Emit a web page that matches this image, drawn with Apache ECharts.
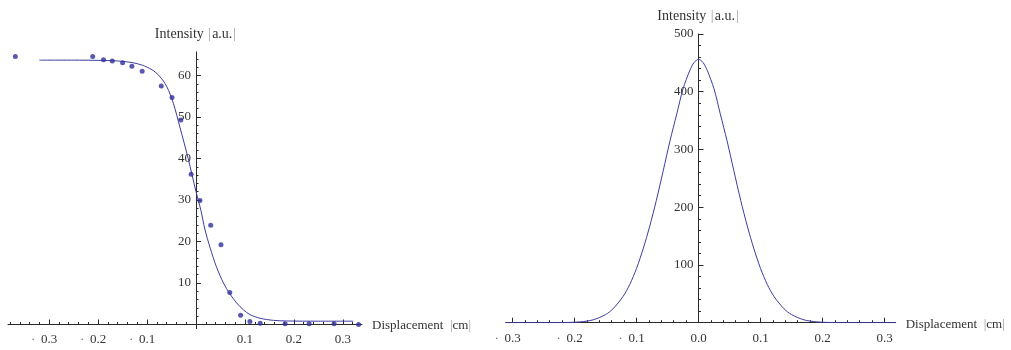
<!DOCTYPE html>
<html>
<head>
<meta charset="utf-8">
<script src="https://cdn.jsdelivr.net/npm/echarts@6/dist/echarts.min.js"></script>
<style>
  html, body { margin: 0; padding: 0; background: #ffffff; }
  #chart { width: 1011px; height: 350px; }
</style>
</head>
<body>
<div id="chart"></div>
<script>
// Knife-edge scan: measured intensity vs. displacement
const edgeX = [-0.369, -0.211, -0.189, -0.171, -0.150, -0.131, -0.110, -0.071, -0.049, -0.031,
               -0.010, 0.008, 0.030, 0.051, 0.069, 0.091, 0.110, 0.131, 0.182, 0.231, 0.282, 0.332];
const edgeY = [64.6, 64.6, 63.8, 63.5, 63.1, 62.2, 61.0, 57.5, 54.7, 49.3,
               36.2, 29.9, 23.9, 19.2, 7.7, 2.2, 0.7, 0.3, 0.2, 0.2, 0.2, 0.0];

// Fitted edge curve
const edgeFitX = [-0.32, -0.25, -0.20, -0.16, -0.13, -0.11, -0.09, -0.075, -0.06, -0.046,
                  -0.033, -0.016, 0.000, 0.010, 0.018, 0.029, 0.042, 0.056, 0.069, 0.083,
                  0.097, 0.110, 0.131, 0.158, 0.185, 0.25, 0.321];
const edgeFitY = [63.7, 63.7, 63.65, 63.5, 63.1, 62.5, 61.4, 59.9, 57.4, 53.2,
                  47.6, 40.0, 32.0, 27.5, 23.0, 18.4, 13.8, 10.0, 7.4, 5.2,
                  3.5, 2.4, 1.5, 1.0, 0.85, 0.8, 0.8];

// Beam profile (derivative of the edge fit)
const beamX = [-0.311, -0.25, -0.213, -0.190, -0.170, -0.150, -0.138, -0.122, -0.111, -0.100,
               -0.089, -0.079, -0.068, -0.057, -0.046, -0.035, -0.025, -0.014, -0.007, 0.000,
               0.007, 0.014, 0.025, 0.035, 0.046, 0.057, 0.068, 0.079, 0.089, 0.100,
               0.111, 0.122, 0.138, 0.150, 0.170, 0.190, 0.213, 0.25, 0.318];
const beamY = [0, 0, 0.3, 1.5, 5, 14, 24, 45, 66, 94,
               129, 166, 212, 263, 315, 362, 405, 437, 451, 456,
               451, 437, 405, 362, 315, 263, 212, 166, 129, 94,
               66, 45, 24, 14, 5, 1.5, 0.3, 0, 0];

// Tick values
const edgeMajorX = [-0.3, -0.2, -0.1, 0.1, 0.2, 0.3];
const edgeMajorY = [10, 20, 30, 40, 50, 60];
const beamMajorX = [-0.3, -0.2, -0.1, 0.0, 0.1, 0.2, 0.3];
const beamMajorY = [100, 200, 300, 400, 500];

// Axis ranges
const edgeRangeX = [-0.384, 0.339];
const edgeRangeY = [-1, 65.7];
const beamRangeX = [-0.311, 0.318];
const beamRangeY = [0, 500];

function minorTicks(from, to, step, skip) {
  const out = [];
  const n = Math.round((to - from) / step);
  for (let i = 0; i <= n; i++) {
    const v = Math.round((from + i * step) * 1000) / 1000;
    if (Math.abs(Math.round(v / skip) * skip - v) > 1e-9) out.push(v);
  }
  return out;
}
const edgeMinorX = minorTicks(-0.38, 0.32, 0.02, 0.1);
const edgeMinorY = minorTicks(0, 64, 2, 10);
const beamMinorX = minorTicks(-0.30, 0.30, 0.02, 0.1);
const beamMinorY = minorTicks(0, 480, 20, 100);

const zip = (xs, ys) => xs.map((x, i) => [x, ys[i]]);

const FONT = "'Liberation Serif', 'Times New Roman', serif";
const AXIS = '#2a2a2a';
const TEXT = '#333333';
const BLUE_LINE = '#3c3ca0';
const BLUE_DOT = '#30309a';

const richY = {
  t: { fontFamily: FONT, fontSize: 14, color: TEXT },
  b: { fontFamily: FONT, fontSize: 14, color: '#9a9a9a', padding: [0, 1, 0, 1] }
};
const richX = {
  t: { fontFamily: FONT, fontSize: 13, color: TEXT },
  b: { fontFamily: FONT, fontSize: 13, color: '#9a9a9a' }
};
const yName = '{t|Intensity }{b||}{t|a.u.}{b||}';
const xName = '{t|Displacement  }{b||}{t|cm}{b||}';

// Negative tick values carry a small leading dot; the number itself stays centred on the tick
function xFormatter(v) {
  if (v < 0) return '{d|·}' + Math.abs(v).toFixed(1) + '{e| }';
  return v.toFixed(1);
}
const xLabelRich = {
  d: { fontFamily: FONT, fontSize: 13, color: '#777', width: 10, align: 'left' },
  e: { fontFamily: FONT, fontSize: 13, width: 10 }
};

const grids = [
  { left: 8, top: 51.85, width: 354, height: 276.8 },
  { left: 505.7, top: 34, width: 390, height: 288.7 }
];

// Pixel offsets that bring the labelled axes onto the zero lines of each grid
function zeroOffsets(grid, rx, ry) {
  const zx = grid.left + (0 - rx[0]) / (rx[1] - rx[0]) * grid.width;
  const zy = grid.top + (ry[1] - 0) / (ry[1] - ry[0]) * grid.height;
  return { y: -(zx - grid.left), x: -(grid.top + grid.height - zy) };
}

function majorXAxis(gridIndex, range, ticks, offset) {
  return {
    type: 'value', gridIndex, min: range[0], max: range[1], position: 'bottom', offset,
    axisLine: { show: true, onZero: false, lineStyle: { color: AXIS, width: 1 } },
    axisTick: { show: true, inside: true, length: 5, customValues: ticks, lineStyle: { color: AXIS } },
    axisLabel: {
      customValues: ticks, formatter: xFormatter, margin: 9,
      fontFamily: FONT, fontSize: 13, color: TEXT, rich: xLabelRich
    },
    splitLine: { show: false },
    name: xName, nameLocation: 'end', nameGap: 10,
    nameTextStyle: { rich: richX, padding: [3, 0, 0, 0] }
  };
}
function minorXAxis(gridIndex, range, ticks) {
  return {
    type: 'value', gridIndex, min: range[0], max: range[1], position: 'top',
    axisLine: { show: false, onZero: true },
    axisTick: { show: true, inside: false, length: 2.5, customValues: ticks, lineStyle: { color: AXIS } },
    axisLabel: { show: false },
    splitLine: { show: false }
  };
}
function majorYAxis(gridIndex, range, ticks, offset) {
  return {
    type: 'value', gridIndex, min: range[0], max: range[1], position: 'left', offset,
    axisLine: { show: true, onZero: false, lineStyle: { color: AXIS, width: 1 } },
    axisTick: { show: true, inside: true, length: 5, customValues: ticks, lineStyle: { color: AXIS } },
    axisLabel: { customValues: ticks, margin: 5, fontFamily: FONT, fontSize: 13, color: TEXT },
    splitLine: { show: false },
    name: yName, nameLocation: 'end', nameGap: 11,
    nameTextStyle: { rich: richY }
  };
}
function minorYAxis(gridIndex, range, ticks) {
  return {
    type: 'value', gridIndex, min: range[0], max: range[1], position: 'right',
    axisLine: { show: false, onZero: true },
    axisTick: { show: true, inside: false, length: 2.5, customValues: ticks, lineStyle: { color: AXIS } },
    axisLabel: { show: false },
    splitLine: { show: false }
  };
}

const offEdge = zeroOffsets(grids[0], edgeRangeX, edgeRangeY);
const offBeam = zeroOffsets(grids[1], beamRangeX, beamRangeY);

const chart = echarts.init(document.getElementById('chart'), null, { renderer: 'canvas' });
chart.setOption({
  animation: false,
  backgroundColor: '#ffffff',
  grid: grids.map(g => Object.assign({ containLabel: false, outerBoundsMode: 'none' }, g)),
  xAxis: [
    majorXAxis(0, edgeRangeX, edgeMajorX, offEdge.x),
    minorXAxis(0, edgeRangeX, edgeMinorX),
    majorXAxis(1, beamRangeX, beamMajorX, offBeam.x),
    minorXAxis(1, beamRangeX, beamMinorX)
  ],
  yAxis: [
    majorYAxis(0, edgeRangeY, edgeMajorY, offEdge.y),
    minorYAxis(0, edgeRangeY, edgeMinorY),
    majorYAxis(1, beamRangeY, beamMajorY, offBeam.y),
    minorYAxis(1, beamRangeY, beamMinorY)
  ],
  series: [
    {
      type: 'line', xAxisIndex: 0, yAxisIndex: 0,
      data: zip(edgeFitX, edgeFitY), smooth: 0.3, showSymbol: false,
      lineStyle: { color: BLUE_LINE, width: 1 }, z: 2
    },
    {
      type: 'scatter', xAxisIndex: 0, yAxisIndex: 0,
      data: zip(edgeX, edgeY), symbol: 'circle', symbolSize: 5,
      itemStyle: { color: BLUE_DOT }, z: 3
    },
    {
      type: 'line', xAxisIndex: 2, yAxisIndex: 2,
      data: zip(beamX, beamY), smooth: 0.3, showSymbol: false,
      lineStyle: { color: BLUE_LINE, width: 1 }, z: 2
    }
  ]
});
</script>
</body>
</html>
